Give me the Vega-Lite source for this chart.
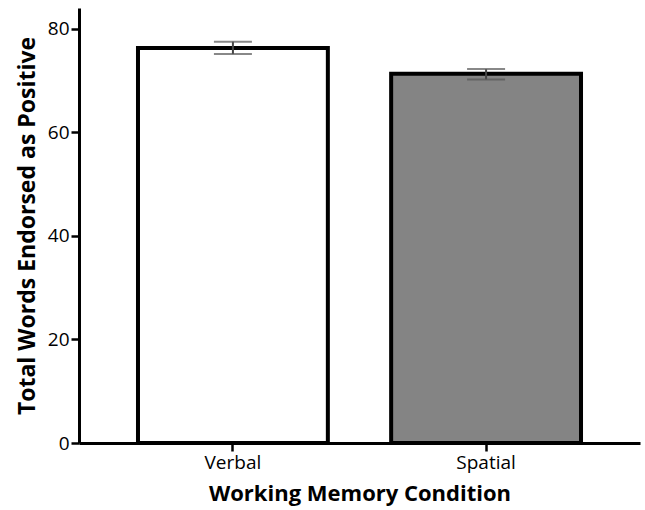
{
  "$schema": "https://vega.github.io/schema/vega-lite/v6.json",
  "autosize": "none",
  "width": 561,
  "height": 435,
  "padding": {"left": 79, "top": 8, "right": 5, "bottom": 67},
  "background": "white",
  "config": {
    "view": {"stroke": null},
    "font": "Open Sans",
    "axis": {"grid": false, "domainColor": "black", "domainWidth": 3, "tickColor": "black", "tickWidth": 2.5, "tickSize": 8, "labelColor": "black", "labelFontSize": 19, "titleColor": "black", "titleFontSize": 22, "titleFontWeight": "bold", "labelFont": "Open Sans", "titleFont": "Open Sans"}
  },
  "data": {"values": [
    {"cond": "Verbal", "mean": 76.3, "lo": 75.1, "hi": 77.5, "fill": "white"},
    {"cond": "Spatial", "mean": 71.3, "lo": 70.2, "hi": 72.2, "fill": "gray"}
  ]},
  "encoding": {
    "x": {"field": "cond", "type": "nominal", "sort": ["Verbal", "Spatial"],
      "scale": {"paddingInner": 0.25, "paddingOuter": 0.233},
      "axis": {"title": "Working Memory Condition", "labelAngle": 0, "labelPadding": 2, "titlePadding": 11}}
  },
  "layer": [
    {
      "mark": {"type": "bar", "stroke": "black", "strokeWidth": 4},
      "encoding": {
        "y": {"field": "mean", "type": "quantitative", "scale": {"domain": [0, 84], "nice": false},
          "axis": {"title": "Total Words Endorsed as Positive", "titleFontSize": 23, "values": [0, 20, 40, 60, 80], "labelPadding": 2, "titlePadding": 8}},
        "fill": {"field": "fill", "type": "nominal", "scale": {"domain": ["white", "gray"], "range": ["#ffffff", "#848484"]}, "legend": null}
      }
    },
    {
      "mark": {"type": "rule", "color": "#444444", "strokeWidth": 2},
      "encoding": {"y": {"field": "lo", "type": "quantitative"}, "y2": {"field": "hi"}}
    },
    {
      "mark": {"type": "tick", "color": "#555555", "thickness": 2, "size": 38},
      "encoding": {"y": {"field": "lo", "type": "quantitative"}}
    },
    {
      "mark": {"type": "tick", "color": "#555555", "thickness": 2, "size": 38},
      "encoding": {"y": {"field": "hi", "type": "quantitative"}}
    }
  ]
}
